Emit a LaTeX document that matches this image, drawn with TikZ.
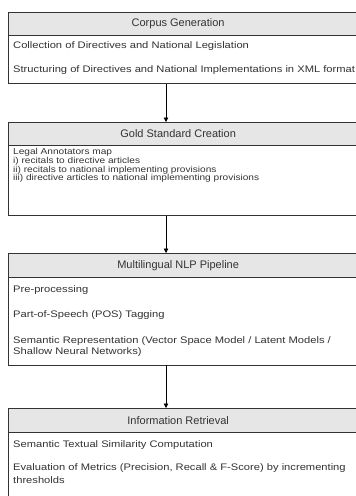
\documentclass[tikz,border=0pt]{standalone}
\usepackage{fontspec}
\setmainfont{Liberation Sans}
\newfontfamily\bodyfont[FakeStretch=1.175]{Liberation Sans}
\usetikzlibrary{arrows.meta}
\definecolor{hdrfill}{HTML}{E6E6E6}
\definecolor{linec}{HTML}{333333}
\definecolor{txtc}{HTML}{333333}
\begin{document}
\begin{tikzpicture}[x=1pt,y=-1pt,
  hdr/.style={draw=linec, fill=hdrfill, line width=0.8pt, minimum width=347.5pt,
    anchor=north west, inner sep=0pt, text=txtc, font=\fontsize{11}{13}\selectfont},
  bodybox/.style={draw=linec, fill=white, line width=0.8pt, minimum width=350pt,
    anchor=north west, inner sep=0pt},
  item/.style={anchor=west, inner sep=0pt, text=txtc, font=\bodyfont\fontsize{9.5}{9.5}\selectfont},
  smallitem/.style={anchor=west, inner sep=0pt, text=txtc, font=\bodyfont\fontsize{8.6}{8.6}\selectfont},
  arr/.style={draw=black, line width=0.7pt, -{Triangle[width=4.5pt,length=4.5pt]}}]
\useasboundingbox (0,0) rectangle (356,496);
\clip (0,0) rectangle (356,496);
\fill[white] (0,0) rectangle (356,496);
\coordinate (ax) at (166,0);

% Box 1
\node[bodybox, minimum height=48.5pt] (b1) at (8,34.5) {};
\node[hdr, minimum height=22.5pt] (h1) at (8,12) {\hspace*{-8pt}Corpus Generation};
\node[item] (t11) at (13,46) {Collection of Directives and National Legislation};
\node[item] (t12) at (13,70) {Structuring of Directives and National Implementations in XML format};

% Box 2
\node[bodybox, minimum height=70.5pt] (b2) at (8,144.5) {};
\node[hdr, minimum height=22.5pt] (h2) at (8,122) {\hspace*{-8pt}Gold Standard Creation};
\node[smallitem] (t21) at (13,152.5) {Legal Annotators map};
\node[smallitem] (t22) at (13,161.2) {i) recitals to directive articles};
\node[smallitem] (t23) at (13,169.9) {ii) recitals to national implementing provisions};
\node[smallitem] (t24) at (13,178.6) {iii) directive articles to national implementing provisions};

% Box 3
\node[bodybox, minimum height=87.5pt] (b3) at (8,277) {};
\node[hdr, minimum height=24pt] (h3) at (8,253) {\hspace*{-8pt}Multilingual NLP Pipeline};
\node[item] (t31) at (13,290) {Pre-processing};
\node[item] (t32) at (13,315) {Part-of-Speech (POS) Tagging};
\node[item] (t33) at (13,341) {Semantic Representation (Vector Space Model / Latent Models /};
\node[item] (t34) at (13,352) {Shallow Neural Networks)};

% Box 4
\node[bodybox, minimum height=80pt] (b4) at (8,432) {};
\node[hdr, minimum height=24pt] (h4) at (8,408) {\hspace*{-8pt}Information Retrieval};
\node[item] (t41) at (13,445) {Semantic Textual Similarity Computation};
\node[item] (t42) at (13,468) {Evaluation of Metrics (Precision, Recall \& F-Score) by incrementing};
\node[item] (t43) at (13,480) {thresholds};

% Arrows
\draw[arr] (b1.south -| ax) -- (h2.north -| ax);
\draw[arr] (b2.south -| ax) -- (h3.north -| ax);
\draw[arr] (b3.south -| ax) -- (h4.north -| ax);
\end{tikzpicture}
\end{document}
